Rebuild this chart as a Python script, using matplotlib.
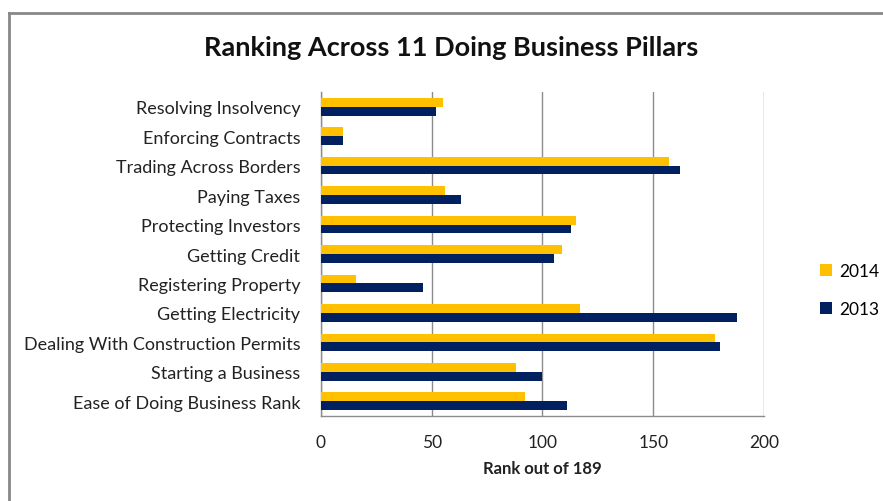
import matplotlib.pyplot as plt
from matplotlib.lines import Line2D
import numpy as np

categories = ["Ease of Doing Business Rank", "Starting a Business",
              "Dealing With Construction Permits", "Getting Electricity",
              "Registering Property", "Getting Credit", "Protecting Investors",
              "Paying Taxes", "Trading Across Borders", "Enforcing Contracts",
              "Resolving Insolvency"]
rank_2014 = [92, 88, 178, 117, 16, 109, 115, 56, 157, 10, 55]
rank_2013 = [111, 100, 180, 188, 46, 105, 113, 63, 162, 10, 52]
xticks = [0, 50, 100, 150, 200]

plt.rcParams['font.family'] = ['Lato', 'DejaVu Sans']

fig = plt.figure(figsize=(8.83, 5.02), dpi=100)
ax = fig.add_axes([0.3635, 0.1693, 0.5017, 0.6454])

y = np.arange(len(categories))
h = 0.3
ax.barh(y + h / 2, rank_2014, height=h, color='#FFC000', label='2014', zorder=3)
ax.barh(y - h / 2, rank_2013, height=h, color='#002060', label='2013', zorder=3)

ax.set_xlim(0, 200)
ax.set_ylim(-0.5, len(categories) - 0.5)
ax.set_xticks(xticks)
ax.set_xticklabels([str(v) for v in xticks], fontsize=12.5, color='#222222')
ax.set_yticks(y)
ax.set_yticklabels(categories, fontsize=13, color='#222222')
ax.tick_params(axis='both', length=0)
ax.tick_params(axis='x', pad=13)
ax.tick_params(axis='y', pad=15)
ax.grid(axis='x', color='#8c8c8c', linewidth=1, zorder=0)
for s in ['top', 'right']:
    ax.spines[s].set_visible(False)
for s in ['left', 'bottom']:
    ax.spines[s].set_color('#8c8c8c')
    ax.spines[s].set_linewidth(1)

ax.set_xlabel('Rank out of 189', fontsize=12, fontweight='bold', labelpad=7, color='#222222')

fig.text(0.511, 1 - 48 / 502, 'Ranking Across 11 Doing Business Pillars',
         fontsize=19.5, fontweight='bold', ha='center', va='center', color='#111111')

handles, labels = ax.get_legend_handles_labels()
leg = fig.legend(handles, labels, loc='center left', bbox_to_anchor=(0.911, 0.42),
                 frameon=False, fontsize=12.5, handlelength=0.7, handleheight=0.7,
                 handletextpad=0.4, labelspacing=1.3)

# chart frame
fig.add_artist(Line2D([9 / 883, 9 / 883], [0, 1 - 14 / 502], transform=fig.transFigure,
                      color='#888888', linewidth=2))
fig.add_artist(Line2D([9 / 883, 1], [1 - 14 / 502, 1 - 14 / 502], transform=fig.transFigure,
                      color='#888888', linewidth=2))

fig.savefig('out.png', dpi=100)
